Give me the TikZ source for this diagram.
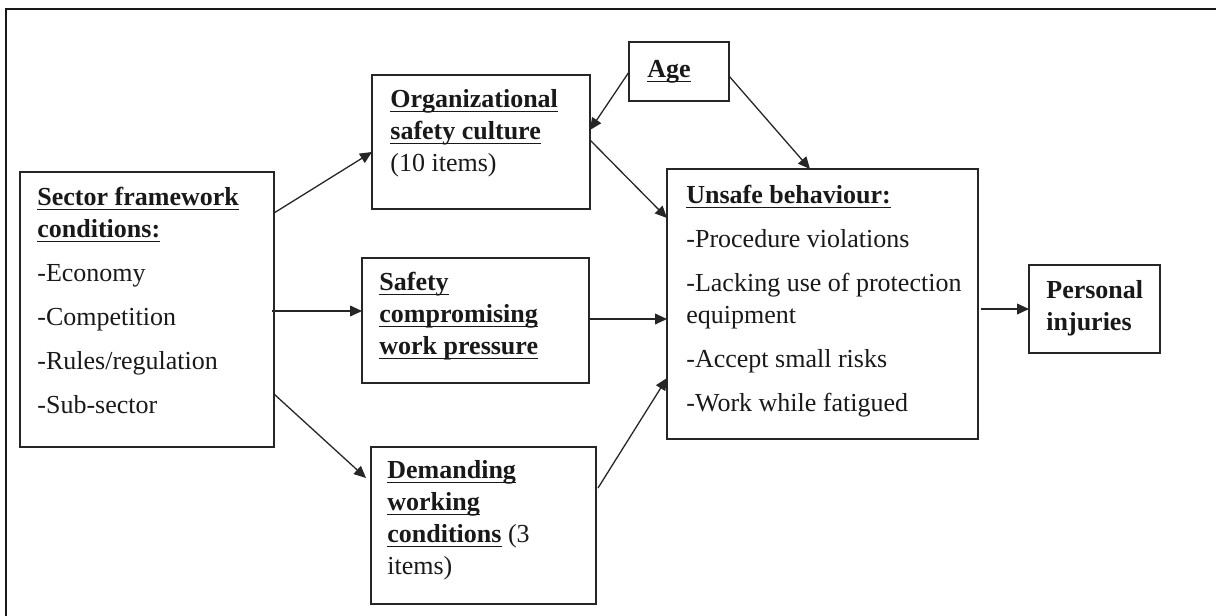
\documentclass[tikz,border=0pt]{standalone}
\usepackage{fontspec}
\setmainfont{Liberation Serif}
\usetikzlibrary{arrows.meta,calc}
\newsavebox\hdbox
\newcommand{\hd}[1]{\sbox\hdbox{\textbf{#1}}\rlap{\vrule width\wd\hdbox height -1.6pt depth 2.3pt}\usebox\hdbox}
\begin{document}
\begin{tikzpicture}[x=0.5pt,y=-0.5pt,
  box/.style={draw=black!85,line width=0.85pt,anchor=north west,inner sep=0pt,outer sep=0pt},
  txt/.style={anchor=north west,inner sep=0pt,align=left,font={\fontsize{13}{16}\selectfont},text=black!90},
  conn/.style={draw=black!85,line width=0.65pt,-{Triangle[length=6pt,width=5.4pt]}},
  frame/.style={draw=black!90,line width=1.4pt}]
\useasboundingbox (0,0) rectangle (1216,616);
\draw[frame] (6,616) -- (6,9) -- (1216,9);
% boxes
\node[box,minimum width=127pt,minimum height=137.5pt] (sector) at (20,172) {};
\node[box,minimum width=109pt,minimum height=67pt] (org) at (372,75) {};
\node[box,minimum width=50pt,minimum height=29.5pt] (age) at (629,42) {};
\node[box,minimum width=113.5pt,minimum height=62.5pt] (safety) at (362,258) {};
\node[box,minimum width=112.5pt,minimum height=78.5pt] (demand) at (371,447) {};
\node[box,minimum width=155.5pt,minimum height=135pt] (unsafe) at (667,169) {};
\node[box,minimum width=65.5pt,minimum height=44pt] (personal) at (1029,265) {};
% texts
\node[txt] (sectorT) at (37,182.6) {\strut\hd{Sector framework}\\ \hd{conditions:}\\[6pt] -Economy\\[6pt] -Competition\\[6pt] -Rules/regulation\\[6pt] -Sub-sector};
\node[txt] (orgT) at (390,84.6) {\strut\hd{Organizational}\\ \hd{safety culture}\\ (10 items)};
\node[txt] (ageT) at (647,54.6) {\strut\hd{Age}};
\node[txt] (safetyT) at (379,267.6) {\strut\hd{Safety}\\ \hd{compromising}\\ \hd{work pressure}};
\node[txt] (demandT) at (387,455.6) {\strut\hd{Demanding}\\ \hd{working}\\ \hd{conditions} (3\\ items)};
\node[txt] (unsafeT) at (686,180.6) {\strut\hd{Unsafe behaviour:}\\[6pt] -Procedure violations\\[6pt] -Lacking use of protection\\ equipment\\[6pt] -Accept small risks\\[6pt] -Work while fatigued};
\node[txt] (personalT) at (1046,275.6) {\strut\textbf{Personal}\\ \textbf{injuries}};
% connectors
\draw[conn] ($(sector.north east)+(0,41)$) -- ($(org.north west)+(0,77)$);
\draw[conn] ($(sector.north east)+(-2,139)$) -- ($(safety.north west)+(0,53)$);
\draw[conn] ($(sector.north east)+(0,222)$) -- ($(demand.north west)+(-5,31)$);
\draw[conn] ($(age.north west)+(0,30)$) -- ($(org.north east)+(0,55)$);
\draw[conn] ($(age.north east)+(0,34)$) -- ($(unsafe.north west)+(143,0)$);
\draw[conn] ($(org.north east)+(0,65)$) -- ($(unsafe.north west)+(0,49)$);
\draw[conn] ($(safety.north east)+(0,61)$) -- ($(unsafe.north west)+(0,150)$);
\draw[conn] ($(demand.north east)+(2,41)$) -- ($(unsafe.north west)+(0,209)$);
\draw[conn] ($(unsafe.north east)+(3,140)$) -- ($(personal.north west)+(0,44)$);
\end{tikzpicture}
\end{document}
